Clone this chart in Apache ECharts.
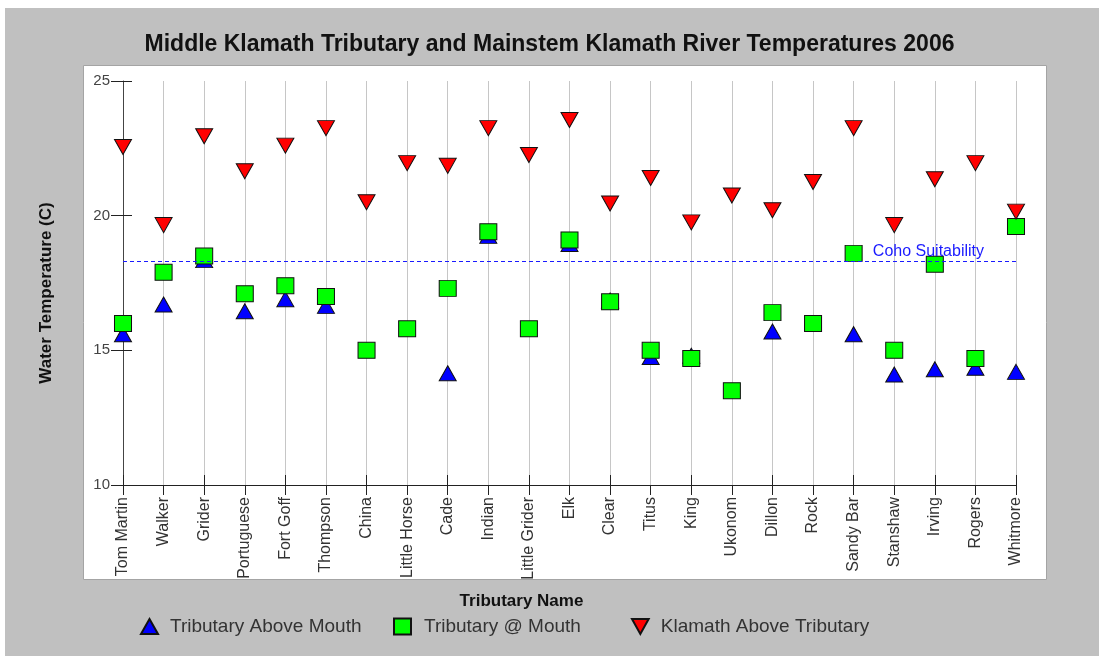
<!DOCTYPE html>
<html>
<head>
<meta charset="utf-8">
<title>Middle Klamath Tributary Temperatures 2006</title>
<script src="https://cdn.jsdelivr.net/npm/echarts@6/dist/echarts.min.js"></script>
<style>
  html, body { margin: 0; padding: 0; background: #fff; }
  #main { width: 1099px; height: 656px; }
</style>
</head>
<body>
<div id="main"></div>
<script>
// tributaries, upstream to downstream
var tributaries = ['Tom Martin', 'Walker', 'Grider', 'Portuguese', 'Fort Goff', 'Thompson', 'China',
  'Little Horse', 'Cade', 'Indian', 'Little Grider', 'Elk', 'Clear', 'Titus', 'King', 'Ukonom',
  'Dillon', 'Rock', 'Sandy Bar', 'Stanshaw', 'Irving', 'Rogers', 'Whitmore'];

// water temperature (C)
var aboveMouth = [15.6, 16.7, 18.35, 16.45, 16.9, 16.65, null, null, 14.15, 19.25, null, 18.95,
  16.85, 14.75, 14.8, null, 15.7, null, 15.6, 14.1, 14.3, 14.35, 14.2];
var atMouth = [16.0, 17.9, 18.5, 17.1, 17.4, 17.0, 15.0, 15.8, 17.3, 19.4, 15.8, 19.1,
  16.8, 15.0, 14.7, 13.5, 16.4, 16.0, 18.6, 15.0, 18.2, 14.7, 19.6];
var klamathAbove = [22.55, 19.65, 22.95, 21.65, 22.6, 23.25, 20.5, 21.95, 21.85, 23.25, 22.25, 23.55,
  20.45, 21.4, 19.75, 20.75, 20.2, 21.25, 23.25, 19.65, 21.35, 21.95, 20.15];

var cohoSuitability = 18.3;
var yTicks = [10, 15, 20, 25];

var FONT = '"Liberation Sans", Arial, sans-serif';
var COHO_BLUE = '#1a1aff';

var chartDom = document.getElementById('main');
var myChart = echarts.init(chartDom, null, { renderer: 'canvas' });

// one legend per entry so each can sit where it does in the original
function legendAt(entry, left, w, h, gap) {
  return {
    data: [entry],
    left: left,
    top: 612,
    itemWidth: w,
    itemHeight: h,
    textStyle: { fontFamily: FONT, fontSize: 19, color: '#333', padding: [0, 0, 0, gap] }
  };
}

var option = {
  backgroundColor: '#fff',
  animation: false,
  textStyle: { fontFamily: FONT },
  title: {
    text: 'Middle Klamath Tributary and Mainstem Klamath River Temperatures 2006',
    left: 'center',
    top: 28,
    textStyle: { fontFamily: FONT, fontSize: 23, fontWeight: 'bold', color: '#111' }
  },
  graphic: [
    { type: 'rect', z: -10, silent: true, shape: { x: 5, y: 8, width: 1094, height: 648 }, style: { fill: '#c0c0c0' } },
    { type: 'rect', z: -9, silent: true, shape: { x: 83.5, y: 65.5, width: 963, height: 514 },
      style: { fill: '#fff', stroke: '#a4a4a4', lineWidth: 1 } }
  ],
  legend: [
    legendAt('Tributary Above Mouth', 135, 17, 15, 7),
    legendAt('Tributary @ Mouth', 388, 17, 16, 8),
    legendAt({ name: 'Klamath Above Tributary', icon: 'path://M0,0L20,0L10,18Z' }, 626, 17, 15, 7)
  ],
  grid: { left: 123, right: 83, top: 81, bottom: 171, containLabel: false },
  xAxis: [
    {
      type: 'category',
      data: tributaries,
      boundaryGap: false,
      name: 'Tributary Name',
      nameLocation: 'middle',
      nameGap: 108,
      nameTextStyle: { fontFamily: FONT, fontSize: 17, fontWeight: 'bold', color: '#111', padding: [0, 96, 0, 0] },
      axisLine: { lineStyle: { color: '#222', width: 1 } },
      axisTick: { length: 10, lineStyle: { color: '#222' } },
      axisLabel: { rotate: 90, margin: 12, fontFamily: FONT, fontSize: 16, color: '#333', interval: 0 },
      splitLine: { show: true, lineStyle: { color: '#c6c6c6', width: 1 } }
    },
    {
      // inner half of the crossing ticks
      type: 'category',
      data: tributaries,
      boundaryGap: false,
      position: 'bottom',
      axisLine: { show: false },
      axisTick: { inside: true, length: 10, lineStyle: { color: '#222' } },
      axisLabel: { show: false },
      splitLine: { show: false }
    }
  ],
  yAxis: [
    {
      type: 'value',
      min: 10,
      max: 25,
      interval: 5,
      name: 'Water Temperature (C)',
      nameLocation: 'middle',
      nameGap: 68,
      nameTextStyle: { fontFamily: FONT, fontSize: 17, fontWeight: 'bold', color: '#111', padding: [0, 20, 0, 0] },
      axisLine: { show: true, lineStyle: { color: '#444', width: 1 } },
      axisTick: { show: true, length: 12, lineStyle: { color: '#222' } },
      axisLabel: {
        margin: 13, fontFamily: FONT, fontSize: 15, color: '#444',
        formatter: function (v) { return yTicks.indexOf(v) >= 0 ? String(v) : ''; }
      },
      splitLine: { show: false }
    },
    {
      type: 'value',
      min: 10,
      max: 25,
      interval: 5,
      position: 'left',
      axisLine: { show: false },
      axisTick: { show: true, inside: true, length: 9, lineStyle: { color: '#222' } },
      axisLabel: { show: false },
      splitLine: { show: false }
    }
  ],
  series: [
    {
      // holds only the coho threshold line
      name: 'Coho Suitability',
      type: 'line',
      data: [],
      z: 2,
      color: COHO_BLUE,
      markLine: {
        silent: true,
        symbol: 'none',
        lineStyle: { color: COHO_BLUE, type: [4, 3], width: 1, opacity: 1 },
        emphasis: { disabled: true },
        label: {
          show: true,
          position: 'insideEndTop',
          formatter: 'Coho Suitability',
          fontFamily: FONT,
          fontSize: 16,
          color: COHO_BLUE,
          padding: [0, 30, 0, 0],
          distance: 2
        },
        data: [{ yAxis: cohoSuitability }]
      }
    },
    {
      name: 'Tributary Above Mouth',
      type: 'scatter',
      symbol: 'triangle',
      symbolSize: [17, 15],
      itemStyle: { color: '#0000ff', borderColor: '#111', borderWidth: 1, opacity: 1 },
      data: aboveMouth,
      z: 3
    },
    {
      name: 'Tributary @ Mouth',
      type: 'scatter',
      symbol: 'rect',
      symbolSize: [17, 16],
      itemStyle: { color: '#00ff00', borderColor: '#111', borderWidth: 1, opacity: 1 },
      data: atMouth,
      z: 4
    },
    {
      name: 'Klamath Above Tributary',
      type: 'scatter',
      symbol: 'triangle',
      symbolRotate: 180,
      symbolSize: [17, 15],
      itemStyle: { color: '#ff0000', borderColor: '#111', borderWidth: 1, opacity: 1 },
      data: klamathAbove,
      z: 5
    }
  ]
};

myChart.setOption(option);
</script>
</body>
</html>
